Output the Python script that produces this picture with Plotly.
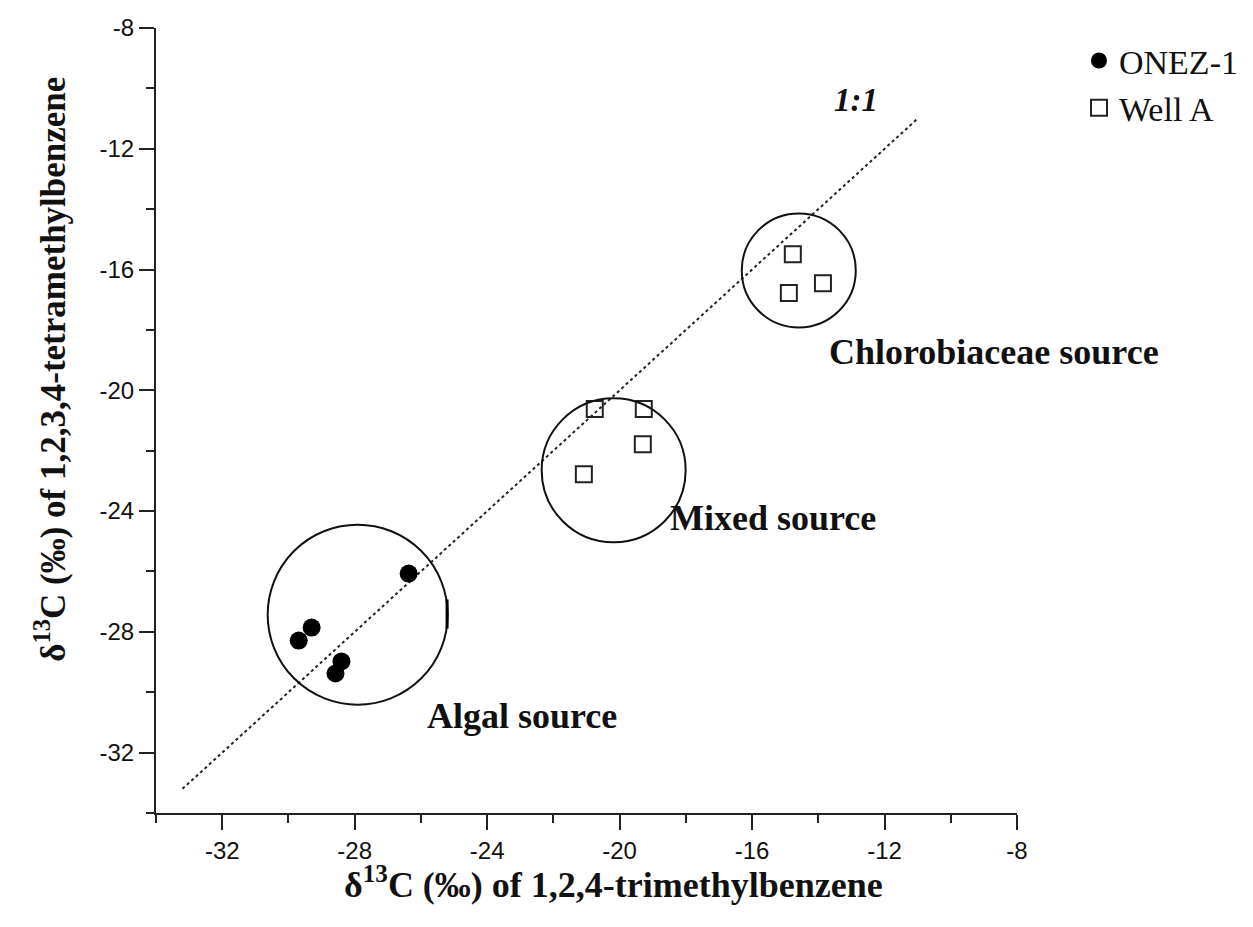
import plotly.graph_objects as go

# delta13C values
onez_x = [-26.37, -29.30, -29.69, -28.40, -28.58]
onez_y = [-26.07, -27.86, -28.29, -28.98, -29.38]

wella_x = [-20.75, -19.27, -19.30, -21.08, -14.77, -13.86, -14.89]
wella_y = [-20.62, -20.62, -21.79, -22.78, -15.49, -16.45, -16.78]

one_to_one = [-33.2, -11.0]

# source groups: label, circle centre (data), radius (px), label left edge (data)
groups = ["Algal source", "Mixed source", "Chlorobiaceae source"]
circle_cx = [-27.91, -20.18, -14.59]
circle_cy = [-27.43, -22.65, -16.03]
circle_r = [90, 72, 57]
label_x = [-25.89, -18.55, -13.74]
label_y = [-30.78, -24.24, -18.74]

ticks = [-32, -28, -24, -20, -16, -12, -8]
tick_text = [str(t) for t in ticks]

x_title = "<b>δ<sup>13</sup>C (‰) of 1,2,4-trimethylbenzene</b>"
y_title = "<b>δ<sup>13</sup>C (‰) of 1,2,3,4-tetramethylbenzene</b>"

SERIF = "Liberation Serif, Times New Roman, serif"
SANS = "Liberation Sans, Arial, sans-serif"

fig = go.Figure()
fig.add_trace(go.Scatter(
    x=one_to_one, y=one_to_one, mode="lines",
    line=dict(color="#222", width=2, dash="dot"), showlegend=False, hoverinfo="skip",
))
fig.add_trace(go.Scatter(
    x=onez_x, y=onez_y, mode="markers", name="ONEZ-1",
    marker=dict(symbol="circle", size=18, color="black"),
))
fig.add_trace(go.Scatter(
    x=wella_x, y=wella_y, mode="markers", name="Well A",
    marker=dict(symbol="square-open", size=16, color="#222", line=dict(width=2)),
))

for cx, cy, r in zip(circle_cx, circle_cy, circle_r):
    fig.add_shape(
        type="circle", xref="x", yref="y", xsizemode="pixel", ysizemode="pixel",
        xanchor=cx, yanchor=cy, x0=-r, x1=r, y0=-r, y1=r,
        line=dict(color="#111", width=2),
    )
# little stray mark on the right of the algal circle
fig.add_shape(type="line", x0=-25.21, x1=-25.21, y0=-26.93, y1=-27.89,
              line=dict(color="black", width=3))

for txt, lx, ly in zip(groups, label_x, label_y):
    fig.add_annotation(x=lx, y=ly, text=f"<b>{txt}</b>", showarrow=False, xanchor="left",
                       font=dict(family=SERIF, size=36, color="#111"))
fig.add_annotation(x=-12.86, y=-10.38, text="<b><i>1:1</i></b>", showarrow=False,
                   font=dict(family=SERIF, size=33, color="#111"))

# axis titles (placed as in the original, a bit off the axis centre)
fig.add_annotation(xref="paper", yref="paper", x=0.531, y=-0.088, text=x_title,
                   showarrow=False, xanchor="center", yanchor="middle",
                   font=dict(family=SERIF, size=36, color="#111"))
fig.add_annotation(xref="paper", yref="paper", x=-0.122, y=0.566, text=y_title,
                   showarrow=False, xanchor="center", yanchor="middle", textangle=-90,
                   font=dict(family=SERIF, size=35, color="#111"))

axis_common = dict(
    range=[-34, -8], tickvals=ticks, ticktext=tick_text, ticks="outside", ticklen=15,
    tickwidth=2, tickcolor="#222", showline=True, linecolor="#222", linewidth=2,
    showgrid=False, zeroline=False, automargin=False,
    tickfont=dict(family=SANS, size=24, color="#111"),
    minor=dict(dtick=2, tick0=0, ticks="outside", ticklen=8, tickwidth=2, tickcolor="#222"),
)

fig.update_layout(
    width=1253, height=927,
    paper_bgcolor="white", plot_bgcolor="white",
    margin=dict(l=148, r=244, t=20, b=122),
    xaxis=axis_common, yaxis=axis_common,
    legend=dict(x=1.072, y=0.995, xanchor="left", yanchor="top",
                font=dict(family=SERIF, size=34, color="#111"),
                bgcolor="rgba(0,0,0,0)", tracegroupgap=0),
    showlegend=True,
)

fig.write_html("out.html")
